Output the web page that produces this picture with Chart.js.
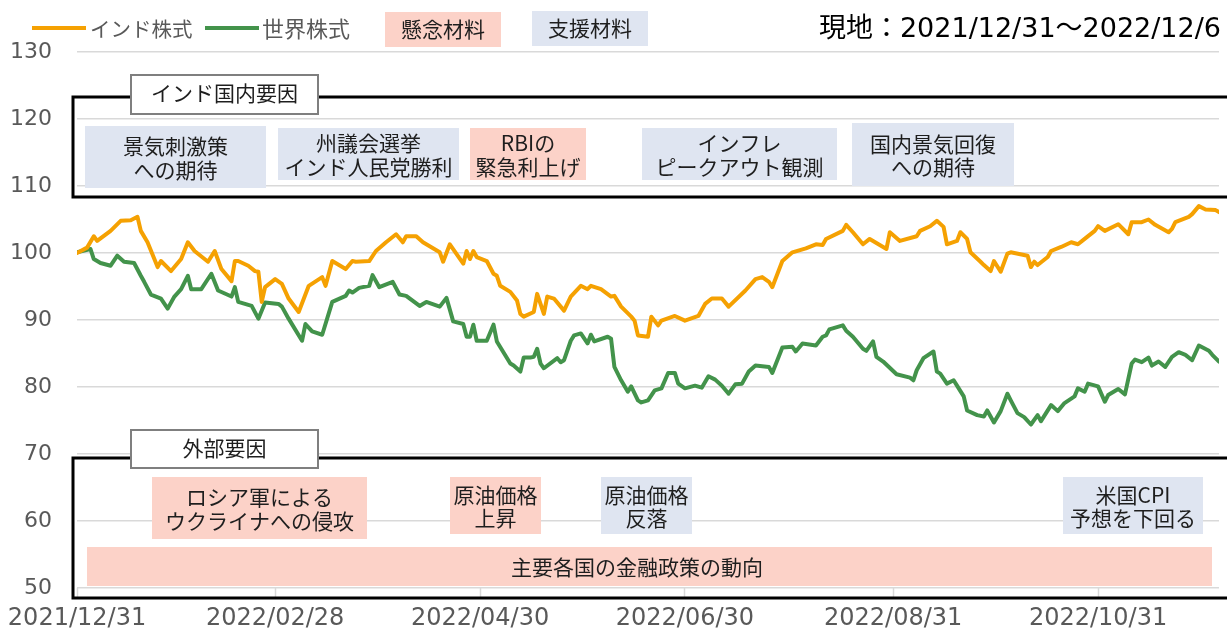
<!DOCTYPE html>
<html><head><meta charset="utf-8">
<script src="https://cdn.jsdelivr.net/npm/chart.js@4.4.1/dist/chart.umd.min.js"></script>
<style>html,body{margin:0;padding:0;background:#fff;}#wrap{width:1227px;height:633px;position:relative;}</style>
</head><body><div id="wrap"><canvas id="c" width="1227" height="633"></canvas></div>
<script>
// ---- data (days since 2021/12/31, index = 100 at start) ----
const startDate = '2021/12/31';
const xTickDates = ['2021/12/31','2022/02/28','2022/04/30','2022/06/30','2022/08/31','2022/10/31'];
const seriesNames = ['インド株式','世界株式'];
const indiaDay = [0,3,5,6,10,13,16,18,19,21,24,25,28,31,33,35,39,41,43,46,47,48,51,53,54,55,56,59,61,63,66,69,73,74,76,80,82,83,87,89,92,95,97,98,101,103,108,109,111,115,116,117,118,119,122,124,125,126,129,131,132,133,136,137,139,140,142,145,147,150,152,153,156,159,160,162,165,166,167,170,171,173,174,178,181,185,187,189,192,194,199,202,204,206,207,210,213,217,220,222,223,228,229,231,234,236,237,241,242,245,250,251,254,256,258,259,262,263,265,266,269,270,272,273,275,277,278,283,284,285,286,289,290,293,296,298,300,303,304,306,310,313,314,317,319,321,325,326,327,331,332,334,336,339,340];
const indiaVal = [100.0,100.8,102.5,101.8,103.3,104.8,104.9,105.4,103.3,101.6,97.9,98.8,97.3,99.1,101.6,100.3,98.7,100.3,97.6,95.8,98.8,98.8,98.1,97.3,97.2,92.7,94.9,96.1,95.4,93.2,91.2,95.1,96.4,95.1,98.8,97.6,98.8,98.7,98.8,100.3,101.6,102.8,101.6,102.5,102.5,101.6,100.1,98.7,101.3,98.4,100.3,99.1,100.3,99.4,98.8,96.9,96.6,95.1,94.2,92.9,90.9,90.5,91.2,93.9,90.9,93.5,93.2,91.4,93.5,95.1,94.6,95.1,94.6,93.5,93.6,92.0,90.5,89.9,87.7,87.5,90.5,89.2,89.9,90.6,89.9,90.6,92.4,93.2,93.2,92.0,94.4,96.1,96.4,95.7,94.9,98.8,100.1,100.7,101.3,101.2,102.1,103.3,104.2,103.1,101.3,102.1,101.8,100.6,103.1,101.8,102.5,103.3,104.0,104.8,103.9,101.3,101.8,103.1,102.1,100.1,98.7,98.2,97.3,98.8,97.2,99.9,100.1,99.6,97.9,98.7,98.2,99.4,100.3,100.9,101.6,101.3,102.1,103.3,104.0,103.3,104.3,102.8,104.6,104.6,105.0,104.2,103.1,103.6,104.6,105.4,105.8,107.0,106.5,106.4,106.1];
const worldDay = [0,4,5,7,10,12,14,17,19,20,22,25,27,29,31,33,34,37,40,42,46,47,48,52,54,56,60,61,63,67,68,70,73,76,80,81,82,84,87,88,90,94,96,98,102,104,108,110,112,115,116,117,118,119,122,124,125,129,130,132,133,135,136,137,138,139,143,144,145,147,148,150,152,153,154,158,159,160,162,164,165,167,168,170,172,174,176,178,179,181,184,186,188,190,192,194,196,198,200,202,206,207,210,213,214,216,220,222,223,224,228,229,231,234,235,237,238,240,244,248,249,250,252,255,256,257,259,261,262,264,265,268,270,271,273,275,277,278,280,282,284,286,287,290,292,294,297,298,300,301,304,306,307,310,312,314,315,317,319,320,322,324,326,328,330,332,334,337,338,340];
const worldVal = [100.1,100.6,99.1,98.5,98.1,99.6,98.7,98.5,96.6,95.7,93.8,93.2,91.7,93.5,94.6,96.6,94.6,94.6,96.9,94.4,93.5,94.9,92.7,92.1,90.2,92.6,92.4,92.0,90.2,86.9,89.4,88.3,87.8,92.7,93.6,94.4,94.1,94.8,95.1,96.7,94.9,95.7,93.8,93.6,92.1,92.7,92.0,93.3,89.8,89.4,87.5,87.5,89.3,86.9,86.9,89.3,86.8,83.5,83.2,82.3,84.4,84.4,84.5,85.7,83.5,82.8,84.3,83.7,84.0,86.9,87.7,88.0,86.5,87.8,86.8,87.5,87.2,83.0,81.0,79.3,80.1,78.0,77.7,78.0,79.5,79.8,82.1,82.1,80.5,79.8,80.2,79.9,81.6,81.1,80.2,79.0,80.4,80.5,82.3,83.2,83.0,82.1,85.9,86.0,85.3,86.5,86.2,87.5,87.7,88.6,89.2,88.4,87.5,85.7,85.4,86.8,84.5,83.8,81.9,81.4,81.0,82.5,84.3,85.3,82.3,82.0,80.5,81.0,80.2,78.6,76.5,75.8,75.6,76.5,74.7,76.4,79.0,78.0,76.1,75.5,74.4,75.8,74.9,77.3,76.4,77.6,78.6,79.8,79.3,80.5,80.1,77.8,78.8,79.7,78.9,83.5,84.1,83.7,84.4,83.2,83.8,83.0,84.5,85.2,84.8,84.0,86.2,85.4,84.8,83.8];
const endDate = '2022/12/06';
const titleText = '現地：2021/12/31～2022/12/6';
const keyTexts = ['懸念材料','支援材料'];
const frameTitles = ['インド国内要因','外部要因'];
const domesticNotes = [['景気刺激策','への期待'],['州議会選挙','インド人民党勝利'],['RBIの','緊急利上げ'],['インフレ','ピークアウト観測'],['国内景気回復','への期待']];
const externalNotes = [['ロシア軍による','ウクライナへの侵攻'],['原油価格','上昇'],['原油価格','反落'],['米国CPI','予想を下回る'],['主要各国の金融政策の動向']];

function dayOf(s){const p=s.split('/').map(Number);const a=startDate.split('/').map(Number);return Math.round((Date.UTC(p[0],p[1]-1,p[2])-Date.UTC(a[0],a[1]-1,a[2]))/86400000);}
const xTickDays = xTickDates.map(dayOf);
const xMax = dayOf(endDate);

const ORANGE='#F5A102', GREEN='#43934B', PINK='#FCD2C8', BLUE='#DFE5F1', GRID='#D9D9D9', GRAY='#595959';
const JP = "'Noto Sans CJK JP', sans-serif";
const NUM = "'DejaVu Sans', 'Noto Sans CJK JP', sans-serif";

// layout of decorations (pixels)
const deco = {
  frames:[{x0:73,y0:97,x1:1240,y1:197},{x0:73,y0:458,x1:1240,y1:598}],
  frameLabels:[{x0:131,y0:75,x1:318,y1:114},{x0:131,y0:430,x1:318,y1:468}],
  domBoxes:[{x0:85,y0:126,x1:266,y1:188,c:BLUE},{x0:278,y0:128,x1:459,y1:180,c:BLUE},{x0:470,y0:128,x1:586,y1:180,c:PINK},{x0:642,y0:128,x1:837,y1:180,c:BLUE},{x0:852,y0:123,x1:1014,y1:186,c:BLUE}],
  extBoxes:[{x0:152,y0:477,x1:367,y1:539,c:PINK},{x0:450,y0:477,x1:541,y1:534,c:PINK},{x0:601,y0:477,x1:692,y1:534,c:BLUE},{x0:1063,y0:477,x1:1203,y1:534,c:BLUE},{x0:87,y0:547,x1:1212,y1:586,c:PINK,tx:637}]
};

const decoPlugin = {
  id:'deco',
  beforeDatasetsDraw(chart){
    const ctx=chart.ctx; ctx.save();
    const drawBox=(b,lines)=>{
      ctx.fillStyle=b.c; ctx.fillRect(b.x0,b.y0,b.x1-b.x0,b.y1-b.y0);
      ctx.fillStyle='#1E1E1E'; ctx.font='21px '+JP; ctx.textAlign='center'; ctx.textBaseline='middle';
      const cx=b.tx||(b.x0+b.x1)/2, cy=(b.y0+b.y1)/2, lh=23.5;
      lines.forEach((t,i)=>ctx.fillText(t,cx,cy+(i-(lines.length-1)/2)*lh+1));
    };
    deco.domBoxes.forEach((b,i)=>drawBox(b,domesticNotes[i]));
    deco.extBoxes.forEach((b,i)=>drawBox(b,externalNotes[i]));
    ctx.strokeStyle='#000'; ctx.lineWidth=3;
    deco.frames.forEach(f=>ctx.strokeRect(f.x0,f.y0,f.x1-f.x0,f.y1-f.y0));
    deco.frameLabels.forEach((f,i)=>{
      ctx.fillStyle='#fff'; ctx.fillRect(f.x0,f.y0,f.x1-f.x0,f.y1-f.y0);
      ctx.strokeStyle='#7F7F7F'; ctx.lineWidth=2; ctx.strokeRect(f.x0,f.y0,f.x1-f.x0,f.y1-f.y0);
      ctx.fillStyle='#1E1E1E'; ctx.font='21px '+JP; ctx.textAlign='center'; ctx.textBaseline='middle';
      ctx.fillText(frameTitles[i],(f.x0+f.x1)/2,(f.y0+f.y1)/2-1);
    });
    // legend
    ctx.lineWidth=4; ctx.lineCap='butt';
    [[32,86,ORANGE,90,seriesNames[0],20.5],[205,259,GREEN,262,seriesNames[1],22]].forEach(l=>{
      ctx.strokeStyle=l[2]; ctx.beginPath(); ctx.moveTo(l[0],28); ctx.lineTo(l[1],28); ctx.stroke();
      ctx.fillStyle=GRAY; ctx.font=l[5]+'px '+JP; ctx.textAlign='left'; ctx.textBaseline='middle'; ctx.fillText(l[4],l[3],29);
    });
    // key boxes
    [[385,12,501,47,PINK],[532,11,648,46,BLUE]].forEach((k,i)=>{
      ctx.fillStyle=k[4]; ctx.fillRect(k[0],k[1],k[2]-k[0],k[3]-k[1]);
      ctx.fillStyle='#1E1E1E'; ctx.font='21px '+JP; ctx.textAlign='center'; ctx.textBaseline='middle';
      ctx.fillText(keyTexts[i],(k[0]+k[2])/2,(k[1]+k[3])/2);
    });
    // title
    ctx.fillStyle='#000'; ctx.font='27px '+NUM; ctx.textAlign='right'; ctx.textBaseline='middle';
    ctx.fillText(titleText,1221,30);
    ctx.restore();
  }
};

new Chart(document.getElementById('c'),{
  type:'line',
  data:{datasets:[
    {label:seriesNames[0],data:indiaDay.map((d,i)=>({x:d,y:indiaVal[i]})),borderColor:ORANGE,borderWidth:4,pointRadius:0,tension:0,borderJoinStyle:'round',borderCapStyle:'round'},
    {label:seriesNames[1],data:worldDay.map((d,i)=>({x:d,y:worldVal[i]})),borderColor:GREEN,borderWidth:4,pointRadius:0,tension:0,borderJoinStyle:'round',borderCapStyle:'round'}
  ]},
  options:{
    responsive:false,animation:false,
    layout:{padding:{top:52,right:8,left:0,bottom:0}},
    plugins:{legend:{display:false},tooltip:{enabled:false}},
    scales:{
      x:{type:'linear',min:0,max:xMax,
        afterBuildTicks(s){s.ticks=xTickDays.map(v=>({value:v}));},
        afterFit(s){s.height=45;},
        ticks:{callback:(v)=>xTickDates[xTickDays.indexOf(v)]||'',font:{family:NUM,size:24},color:GRAY,padding:6,maxRotation:0,autoSkip:false},
        grid:{drawOnChartArea:false,drawTicks:true,tickLength:10,tickColor:GRID,tickWidth:1.5},
        border:{display:false}},
      y:{min:50,max:130,
        afterFit(s){s.width=77;},
        ticks:{stepSize:10,font:{family:NUM,size:22},color:GRAY,padding:25},
        grid:{color:GRID,lineWidth:1.5,drawTicks:false},
        border:{display:false}}
    }
  },
  plugins:[decoPlugin]
});
</script></body></html>
